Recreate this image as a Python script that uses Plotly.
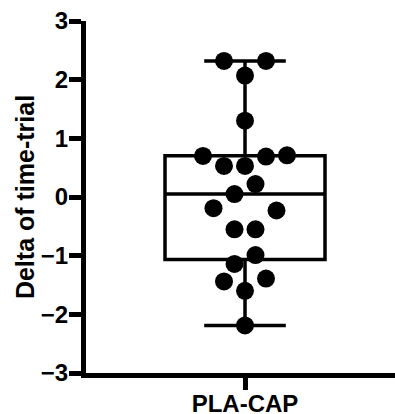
import plotly.graph_objects as go

# Data
group_label = "PLA-CAP"
delta_values = [2.32, 2.32, 2.07, 1.30, 0.70, 0.69, 0.71, 0.53, 0.53, 0.22, 0.05,
                -0.19, -0.23, -0.55, -0.55, -0.99, -1.14, -1.44, -1.39, -1.60, -2.19]
# beeswarm slot of each point (horizontal spread, in marker half-widths)
swarm_slot = [-2, 2, 0, 0, -4, 2, 4, -2, 0, 1, -1, -3, 3, -1, 1, 1, -1, -2, 2, 0, 0]
y_ticks = [-3, -2, -1, 0, 1, 2, 3]

slot_step = 0.105
font_family = "Arial, Liberation Sans, sans-serif"

fig = go.Figure()
fig.add_trace(go.Box(
    x=[0] * len(delta_values), y=delta_values,
    boxpoints=False, quartilemethod="exclusive",
    width=1.6, whiskerwidth=0.51,
    line=dict(color="black", width=3.5),
    fillcolor="rgba(0,0,0,0)",
    showlegend=False, hoverinfo="skip",
))
fig.add_trace(go.Scatter(
    x=[s * slot_step for s in swarm_slot], y=delta_values,
    mode="markers",
    marker=dict(color="black", size=18, line=dict(width=0)),
    showlegend=False,
))

fig.update_layout(
    width=395, height=414,
    margin=dict(l=86, r=0, t=21, b=41, autoexpand=False),
    paper_bgcolor="white", plot_bgcolor="white",
    font=dict(family=font_family, color="black"),
)
fig.update_xaxes(
    range=[-1.59, 1.50], automargin=False,
    tickvals=[0], ticktext=[group_label],
    showgrid=False, zeroline=False,
    showline=True, linecolor="black", linewidth=5,
    ticks="outside", ticklen=12, tickwidth=5, tickcolor="black",
    ticklabelstandoff=-7,
    tickfont=dict(size=24, weight="bold", family=font_family),
)
fig.update_yaxes(
    range=[-3, 3], automargin=False,
    tickvals=y_ticks, ticktext=[("\u2212" + str(-v)) if v < 0 else str(v) for v in y_ticks],
    showgrid=False, zeroline=False,
    showline=True, linecolor="black", linewidth=5,
    ticks="outside", ticklen=12, tickwidth=5, tickcolor="black",
    ticklabelstandoff=-4,
    tickfont=dict(size=24, weight="bold", family=font_family),
    title=dict(text="Delta of time-trial", font=dict(size=25, weight="bold", family=font_family), standoff=1),
)

fig.write_html("out.html", config={"displayModeBar": False},
               post_script="document.body.style.margin='0';")
